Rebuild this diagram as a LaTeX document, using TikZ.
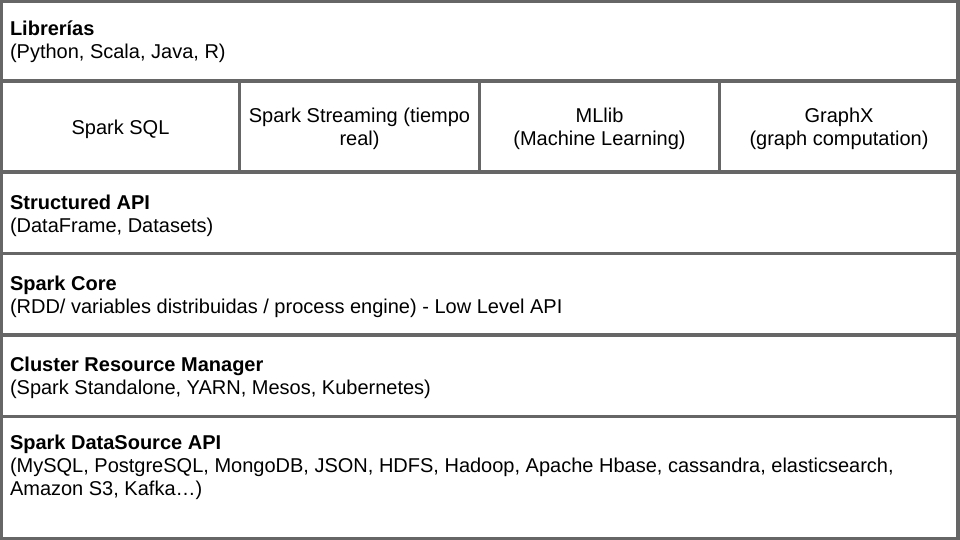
\documentclass[tikz,border=0pt]{standalone}
\usepackage{fontspec}
\setmainfont{Liberation Sans}
\definecolor{bordergray}{HTML}{666666}
\tikzset{
  cell/.style={draw=bordergray, line width=3.5pt, rectangle, inner sep=0pt, outer sep=0pt, fill=white},
  txt/.style={font=\fontsize{20}{23}\selectfont, inner sep=0pt, outer sep=0pt, text=black},
  title/.style={txt, font=\fontsize{20}{23}\selectfont\bfseries, anchor=base west},
  body/.style={txt, anchor=base west},
  mid/.style={txt, anchor=base}
}
\begin{document}
\begin{tikzpicture}[x=1pt,y=-1pt]
\useasboundingbox (0,0) rectangle (960,540);
% cells
\node[cell, minimum width=956.5pt, minimum height=79.5pt] (lib) at (479.75,41.25) {};
\node[cell, minimum width=238pt, minimum height=91pt] (sql) at (120.5,126.5) {};
\node[cell, minimum width=240pt, minimum height=91pt] (stream) at (359.5,126.5) {};
\node[cell, minimum width=240pt, minimum height=91pt] (ml) at (599.5,126.5) {};
\node[cell, minimum width=238.5pt, minimum height=91pt] (graph) at (838.75,126.5) {};
\node[cell, minimum width=956.5pt, minimum height=81.5pt] (api) at (479.75,212.75) {};
\node[cell, minimum width=956.5pt, minimum height=81.5pt] (core) at (479.75,294.25) {};
\node[cell, minimum width=956.5pt, minimum height=81.5pt] (crm) at (479.75,375.75) {};
\node[cell, minimum width=956.5pt, minimum height=122pt] (ds) at (479.75,477.5) {};
% texts
\node[title] (libT) at (10,36) {Librerías};
\node[body] (libB) at (10,59) {(Python, Scala, Java, R)};
\node[mid] (sqlT) at (120.5,134.5) {Spark SQL};
\node[mid] (streamT) at (359.5,122.7) {Spark Streaming (tiempo};
\node[mid] (streamB) at (359.5,145.7) {real)};
\node[mid] (mlT) at (599.5,122.7) {MLlib};
\node[mid] (mlB) at (599.5,145.7) {(Machine Learning)};
\node[mid] (graphT) at (839,122.7) {GraphX};
\node[mid] (graphB) at (839,145.7) {(graph computation)};
\node[title] (apiT) at (10,209) {Structured API};
\node[body] (apiB) at (10,232) {(DataFrame, Datasets)};
\node[title] (coreT) at (10,290) {Spark Core};
\node[body] (coreB) at (10,313) {(RDD/ variables distribuidas / process engine) - Low Level API};
\node[title] (crmT) at (10,371) {Cluster Resource Manager};
\node[body] (crmB) at (10,394) {(Spark Standalone, YARN, Mesos, Kubernetes)};
\node[title] (dsT) at (10,449) {Spark DataSource API};
\node[body] (dsB) at (10,472) {(MySQL, PostgreSQL, MongoDB, JSON, HDFS, Hadoop, Apache Hbase, cassandra, elasticsearch,};
\node[body] (dsC) at (10,495) {Amazon S3, Kafka…)};
\end{tikzpicture}
\end{document}
